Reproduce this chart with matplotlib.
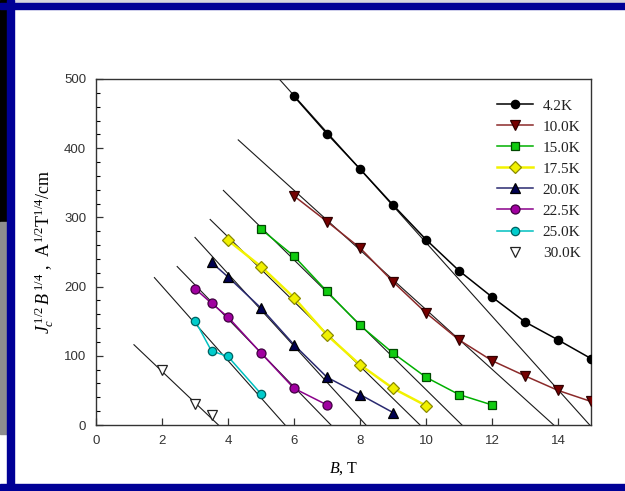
import matplotlib
matplotlib.use("Agg")
import matplotlib.pyplot as plt
from matplotlib.patches import Rectangle
from matplotlib.ticker import MultipleLocator

plt.rcParams["font.family"] = ["Liberation Serif", "DejaVu Serif"]
plt.rcParams["mathtext.fontset"] = "custom"
plt.rcParams["mathtext.rm"] = "Liberation Serif"
plt.rcParams["mathtext.it"] = "Liberation Serif:italic"

# Kramer plot data, Jc^1/2 B^1/4 vs B for each temperature
b_42 = [6, 7, 8, 9, 10, 11, 12, 13, 14, 15]
y_42 = [475, 421, 370, 318, 268, 223, 185, 149, 123, 96]
b_10 = [6, 7, 8, 9, 10, 11, 12, 13, 14, 15]
y_10 = [331, 294, 256, 207, 162, 123, 93, 71, 50, 34]
b_15 = [5, 6, 7, 8, 9, 10, 11, 12]
y_15 = [283, 244, 193, 144, 104, 69, 44, 29]
b_175 = [4, 5, 6, 7, 8, 9, 10]
y_175 = [267, 229, 184, 130, 87, 53, 28]
b_20 = [3.5, 4, 5, 6, 7, 8, 9]
y_20 = [235, 214, 169, 116, 69, 44, 18]
b_225 = [3, 3.5, 4, 5, 6, 7]
y_225 = [197, 176, 156, 104, 53, 29]
b_25 = [3, 3.5, 4, 5]
y_25 = [151, 107, 99, 45]
b_30 = [2, 3, 3.5]
y_30 = [80, 31, 14]

labels = ["4.2K", "10.0K", "15.0K", "17.5K", "20.0K", "22.5K", "25.0K", "30.0K"]

# linear extrapolation lines: start point and the field where they hit zero
fit_x0 = [5.55, 4.31, 3.86, 3.46, 3.00, 2.46, 1.77, 1.15]
fit_y0 = [500, 412, 339, 297, 271, 229, 213, 116]
fit_x1 = [14.96, 13.87, 11.09, 9.82, 8.18, 7.12, 5.73, 3.71]

W, H = 625, 491
fig = plt.figure(figsize=(W / 100, H / 100), dpi=100)
fig.patch.set_facecolor("white")


def band(x, y, w, h, c):
    # rectangle in pixels, measured from the top-left corner
    fig.patches.append(Rectangle((x / W, 1 - (y + h) / H), w / W, h / H,
                                 transform=fig.transFigure, color=c, zorder=-10))


blue = "#000096"
band(0, 0, W, 2.5, "#d6d6de")
band(0, 0, 7, 222, "black")
band(0, 222, 7, 212, "#8e8e8e")
band(7, 0, 7, H, blue)
band(0, 2.5, W, 6, blue)
band(0, 484, W, 7, blue)

ax = fig.add_axes([96 / W, 66 / H, 495 / W, 346 / H])

for x0, y0, x1 in zip(fit_x0, fit_y0, fit_x1):
    ax.plot([x0, x1], [y0, 0], color="#1a1a1a", lw=0.8, zorder=1)

series = [
    (b_42, y_42, dict(color="black", marker="o", mfc="black", mec="black", ms=6)),
    (b_10, y_10, dict(color="#8b2a2a", marker="v", mfc="#760000", mec="#300000", ms=7)),
    (b_15, y_15, dict(color="#00b000", marker="s", mfc="#10cc10", mec="#004800", ms=6)),
    (b_175, y_175, dict(color="#f2f200", lw=1.8, marker="D", mfc="#f0f000", mec="#8a8a00", ms=6)),
    (b_20, y_20, dict(color="#2a2a70", marker="^", mfc="#000050", mec="black", ms=7)),
    (b_225, y_225, dict(color="#8a008a", marker="o", mfc="#a000a0", mec="#400040", ms=6.5)),
    (b_25, y_25, dict(color="#00c0c0", marker="o", mfc="#00cccc", mec="#006060", ms=6)),
    (b_30, y_30, dict(color="none", ls="none", marker="v", mfc="white", mec="#222222", ms=7)),
]

for (b, y, kw), lab in zip(series, labels):
    kw.setdefault("lw", 1.1)
    ax.plot(b, y, label=lab, zorder=3, mew=0.9, **kw)

ax.set_xlim(0, 15)
ax.set_ylim(0, 500)
ax.xaxis.set_major_locator(MultipleLocator(2))
ax.yaxis.set_major_locator(MultipleLocator(100))
ax.yaxis.set_minor_locator(MultipleLocator(20))
ax.tick_params(direction="in", length=5, width=0.9, colors="#333333",
               labelsize=9.5, labelfontfamily="Liberation Sans", pad=7)
ax.tick_params(axis="y", which="minor", direction="in", length=3, width=0.8)
for s in ax.spines.values():
    s.set_color("#333333")
    s.set_linewidth(1.0)

ax.set_xlabel("$B$, T", fontsize=11.5, labelpad=10)
ax.set_ylabel("$J_c^{\\,1/2}\\,B^{\\,1/4}$ ,  A$^{1/2}$T$^{1/4}$/cm", fontsize=13, labelpad=6)

fig.legend(loc="upper left", bbox_to_anchor=(497 / W, 1 - 99 / H), frameon=False,
           fontsize=11, handlelength=2.35, handletextpad=0.65, labelspacing=0.48,
           borderpad=0, borderaxespad=0, labelcolor="#222222")

fig.savefig("out.png", dpi=100)
